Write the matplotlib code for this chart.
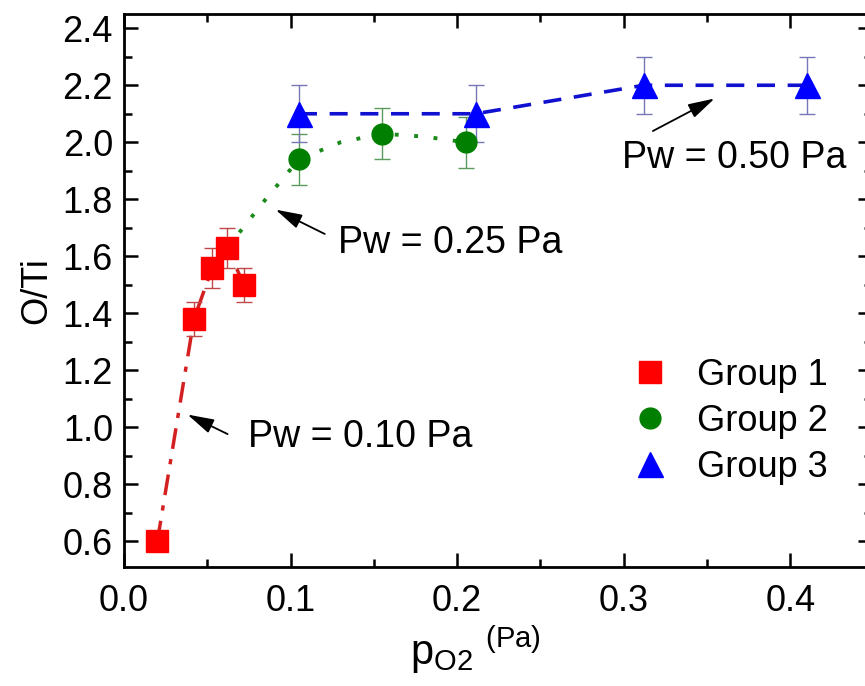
import matplotlib.pyplot as plt

# Group 1 (Pw = 0.10 Pa)
g1_x = [0.020, 0.042, 0.053, 0.062, 0.072]
g1_y = [0.60, 1.38, 1.56, 1.63, 1.50]
g1_err = [0.0, 0.06, 0.07, 0.07, 0.06]

# Group 2 (Pw = 0.25 Pa)
g2_x = [0.105, 0.155, 0.205]
g2_y = [1.94, 2.03, 2.00]
g2_err = [0.09, 0.09, 0.09]

# Group 3 (Pw = 0.50 Pa)
g3_x = [0.105, 0.211, 0.312, 0.410]
g3_y = [2.10, 2.10, 2.20, 2.20]
g3_err = [0.10, 0.10, 0.10, 0.10]

# guide lines through each group
line1_x = [0.020, 0.042, 0.053, 0.062, 0.072]
line1_y = [0.60, 1.38, 1.56, 1.63, 1.50]
line2_x = [0.062, 0.085, 0.105, 0.130, 0.155, 0.180, 0.205]
line2_y = [1.63, 1.80, 1.94, 2.00, 2.03, 2.02, 2.00]
line3_x = [0.105, 0.211, 0.312, 0.410]
line3_y = [2.10, 2.10, 2.20, 2.20]

plt.rcParams["font.family"] = ["Liberation Sans", "DejaVu Sans"]
plt.rcParams["mathtext.fontset"] = "custom"
plt.rcParams["mathtext.rm"] = "Liberation Sans"

fig = plt.figure(figsize=(8.65, 6.86), dpi=100)
ax = fig.add_axes([124 / 865, 1 - 567 / 686, (872 - 124) / 865, (567 - 14) / 686])

ax.plot(line1_x, line1_y, color="#d42020", linestyle=(0, (6, 3, 1.5, 3)), linewidth=2.5)
ax.plot(line2_x, line2_y, color="#1a8a1a", linestyle=(0, (1, 4)), linewidth=2.8)
ax.plot(line3_x, line3_y, color="#1010d0", linestyle=(0, (5, 3.5)), linewidth=2.6)

ax.errorbar(g1_x, g1_y, yerr=g1_err, fmt="none", ecolor="#c04848",
            elinewidth=1, capsize=6, capthick=1)
ax.errorbar(g2_x, g2_y, yerr=g2_err, fmt="none", ecolor="#5a9a5a",
            elinewidth=1, capsize=6, capthick=1)
ax.errorbar(g3_x, g3_y, yerr=g3_err, fmt="none", ecolor="#7878b8",
            elinewidth=1, capsize=6, capthick=1)

ax.plot(g1_x, g1_y, "s", color="#ff0000", markersize=16, linestyle="none",
        label="Group 1")
ax.plot(g2_x, g2_y, "o", color="#007f00", markersize=15, linestyle="none",
        label="Group 2")
ax.plot(g3_x, g3_y, "^", color="#0000ff", markersize=18, linestyle="none",
        label="Group 3")

arrow = dict(arrowstyle="-|>,head_length=0.9,head_width=0.25", color="black",
             lw=1.3, mutation_scale=18)
ax.annotate("", xy=(0.0366, 1.049), xytext=(0.0637, 0.972), arrowprops=arrow)
ax.text(0.0745, 0.965, "Pw = 0.10 Pa", fontsize=27, va="center", ha="left")

ax.annotate("", xy=(0.0895, 1.768), xytext=(0.122, 1.674), arrowprops=arrow)
ax.text(0.1285, 1.646, "Pw = 0.25 Pa", fontsize=27, va="center", ha="left")

ax.annotate("", xy=(0.356, 2.158), xytext=(0.316, 2.035), arrowprops=arrow)
ax.text(0.299, 1.944, "Pw = 0.50 Pa", fontsize=27, va="center", ha="left")

ax.set_xlim(0.0, 0.449)
ax.set_ylim(0.51, 2.45)
ax.set_xticks([0.0, 0.1, 0.2, 0.3, 0.4])
ax.set_xticks([0.05, 0.15, 0.25, 0.35], minor=True)
ax.set_yticks([0.6, 0.8, 1.0, 1.2, 1.4, 1.6, 1.8, 2.0, 2.2, 2.4])
ax.set_yticks([0.7, 0.9, 1.1, 1.3, 1.5, 1.7, 1.9, 2.1, 2.3], minor=True)
ax.set_xticklabels(["0.0", "0.1", "0.2", "0.3", "0.4"])
ax.set_yticklabels(["0.6", "0.8", "1.0", "1.2", "1.4", "1.6", "1.8", "2.0", "2.2", "2.4"])

ax.tick_params(which="both", direction="in", top=True, right=True, width=1.8,
               labelsize=26)
ax.tick_params(axis="x", which="both", pad=12)
ax.tick_params(axis="y", which="both", pad=8)
ax.tick_params(which="major", length=10)
ax.tick_params(which="minor", length=6)
for s in ax.spines.values():
    s.set_linewidth(2)

ax.set_ylabel("O/Ti", fontsize=26, labelpad=6)
ax.set_xlabel(r"p$_{\mathregular{O2}}$ $^{\mathregular{(Pa)}}$", fontsize=30)
ax.xaxis.set_label_coords(0.47, -0.105)

ax.legend(loc="lower right", bbox_to_anchor=(0.985, 0.09), frameon=False,
          fontsize=26, handletextpad=0.7, labelspacing=0.3, handlelength=1.2)

fig.savefig("out.png", dpi=100)
